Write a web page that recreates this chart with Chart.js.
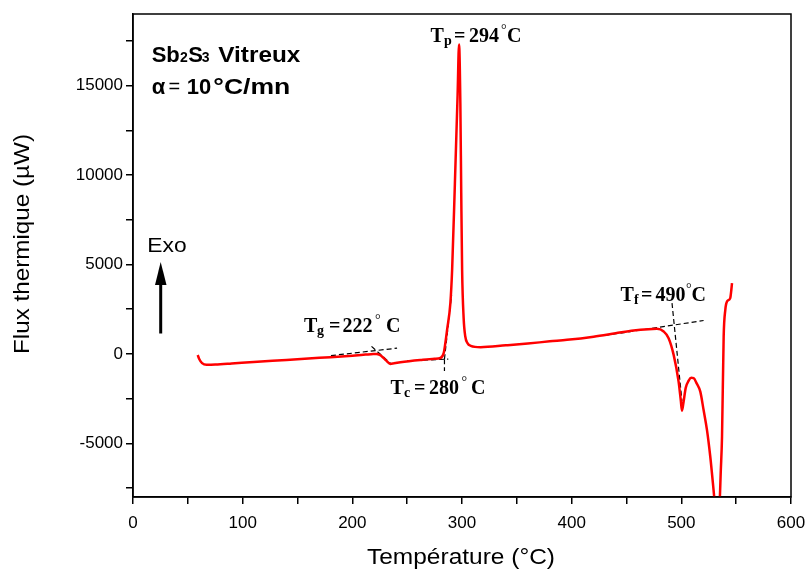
<!DOCTYPE html>
<html>
<head>
<meta charset="utf-8">
<script src="https://cdn.jsdelivr.net/npm/chart.js@4.4.1/dist/chart.umd.min.js"></script>
<style>
  html, body { margin: 0; padding: 0; background: #fff; }
  #wrap { width: 808px; height: 572px; }
</style>
</head>
<body>
<div id="wrap"><canvas id="dsc" width="808" height="572"></canvas></div>
<script>
// DSC curve of glassy Sb2S3 (temperature in °C, flux in µW)
const temperature = [59, 60.5, 63, 67, 75, 90, 110, 140, 170, 200, 212, 219, 222, 225, 228, 231, 234.7, 238, 243.8, 262, 275, 280.3,
  283.3, 284.8, 286.4, 289.4, 291, 293.5, 296, 297.3, 298.5, 299.3, 300.1, 301.5, 303, 305, 308, 317, 340, 360, 380, 395.8, 420,
  440, 456.5, 470, 477.8, 483.9, 488.4, 493, 497.5, 499.5, 500.6, 502, 504, 506.7, 509, 511.2, 514, 517.3, 520.3, 523.4, 526.4,
  529.4, 531.5, 533, 534.5, 536, 537.1, 538.6, 540.1, 541.7, 544.6, 545.6, 546.2];
const flux = [-60, -300, -520, -610, -600, -540, -450, -340, -220, -100, -40, -5, 0, -60, -200, -380, -560, -520, -465, -340, -270, -230,
  40, 600, 1345, 2840, 4700, 9500, 14500, 17300, 14000, 9000, 4700, 2000, 970, 600, 450, 375, 480, 580, 700, 784, 960,
  1150, 1306, 1380, 1400, 1250, 880, -56, -1550, -2600, -3180, -2700, -1900, -1500, -1340, -1360, -1650, -2110, -3140, -4260, -5750,
  -7620, -9000, -9800, -9000, -6500, -4630, 970, 2465, 2930, 3120, 3585, 3960];

// construction lines (tangents) used to read Tg, Tc, Tf
const tgBaseT = [180.5, 240.8], tgBaseF = [-95, 320];
const tgStepT = [217.5, 235], tgStepF = [420, -540];
const tcBaseT = [250, 287.5], tcBaseF = [-390, -290];
const tcEdgeT = [284, 290.5], tcEdgeF = [-297, 3300];
const tcDropT = [284, 284], tcDropF = [-297, -950];
const tfBaseT = [430, 520.3], tfBaseF = [1030, 1865];
const tfEdgeT = [491.5, 500.6], tfEdgeF = [2840, -2650];

const xTickLabels = [0, 100, 200, 300, 400, 500, 600];
const yTickLabels = [-5000, 0, 5000, 10000, 15000];
const yTickMarks = [-7500, -5000, -2500, 0, 2500, 5000, 7500, 10000, 12500, 15000, 17500];

const SANS = "'Liberation Sans', Arial, sans-serif";
const SERIF = "'Liberation Serif', 'Times New Roman', serif";

function pts(xs, ys) { return xs.map((x, i) => ({x: x, y: ys[i]})); }
function dashed(xs, ys) {
  return {data: pts(xs, ys), showLine: true, borderColor: '#000', borderWidth: 1.2,
          borderDash: [5, 3], pointRadius: 0, tension: 0};
}

// draw text squeezed/stretched to a given width
function drawFit(ctx, text, x, y, w, font) {
  ctx.font = font;
  const m = ctx.measureText(text).width;
  ctx.save();
  ctx.translate(x, y);
  ctx.scale(w / m, 1);
  ctx.fillText(text, 0, 0);
  ctx.restore();
}
// "T_sub = value °C" label, pieces placed as in the figure
function drawTemp(ctx, sub, value, xs, base) {
  ctx.font = 'bold 20px ' + SERIF;
  ctx.fillText('T', xs[0], base);
  ctx.fillText('=', xs[2], base);
  ctx.fillText(value, xs[3], base);
  ctx.fillText('C', xs[5], base);
  ctx.font = 'bold 14px ' + SERIF;
  ctx.fillText(sub, xs[1], base + 3);
  ctx.font = '14px ' + SERIF;
  ctx.fillText('\u00b0', xs[4], base - 8);
}

const decor = {
  id: 'decor',
  afterDraw(chart) {
    const ctx = chart.ctx, a = chart.chartArea;
    ctx.save();
    // frame
    ctx.strokeStyle = '#000';
    ctx.lineWidth = 1.5;
    ctx.strokeRect(a.left, a.top, a.right - a.left, a.bottom - a.top);
    ctx.fillStyle = '#000';
    ctx.textAlign = 'left';
    ctx.textBaseline = 'alphabetic';

    // sample / heating rate
    ctx.font = 'bold 22px ' + SANS;
    ctx.fillText('Sb', 151.7, 61.7);
    ctx.fillText('S', 188.3, 61.7);
    ctx.font = 'bold 14px ' + SANS;
    ctx.fillText('2', 180, 61.7);
    ctx.fillText('3', 201.7, 61.7);
    drawFit(ctx, 'Vitreux', 218.3, 61.7, 82, 'bold 22px ' + SANS);
    ctx.font = 'bold 22px ' + SANS;
    ctx.fillText('\u03b1', 151.7, 94);
    ctx.font = '20px ' + SANS;
    ctx.fillText('=', 168.5, 93);
    ctx.font = 'bold 22px ' + SANS;
    ctx.fillText('10', 186.7, 94);
    drawFit(ctx, '\u00b0C/mn', 213.3, 94, 77, 'bold 22px ' + SANS);

    // Exo arrow
    ctx.lineWidth = 3;
    ctx.beginPath();
    ctx.moveTo(160.7, 333.5);
    ctx.lineTo(160.7, 282);
    ctx.stroke();
    ctx.beginPath();
    ctx.moveTo(160.7, 262);
    ctx.lineTo(155, 285);
    ctx.lineTo(166.5, 285);
    ctx.closePath();
    ctx.fill();
    drawFit(ctx, 'Exo', 147.3, 251.7, 39.3, '21px ' + SANS);

    // characteristic temperatures
    drawTemp(ctx, 'p', '294', [430.5, 444, 454, 469, 501, 507], 42);
    drawTemp(ctx, 'g', '222', [304, 317, 329, 342.5, 375, 386], 332);
    drawTemp(ctx, 'c', '280', [390.5, 404, 414, 429, 461.5, 471], 394);
    drawTemp(ctx, 'f', '490', [620.5, 634, 641, 655.5, 686, 691.5], 300.5);

    // axis titles
    drawFit(ctx, 'Temp\u00e9rature (\u00b0C)', 367, 564, 188, '22px ' + SANS);
    ctx.save();
    ctx.translate(28.5, 354);
    ctx.rotate(-Math.PI / 2);
    drawFit(ctx, 'Flux thermique (\u00b5W)', 0, 0, 220, '22px ' + SANS);
    ctx.restore();
    ctx.restore();
  }
};

new Chart(document.getElementById('dsc'), {
  type: 'scatter',
  data: {
    datasets: [
      {data: pts(temperature, flux), showLine: true, borderColor: '#ff0000', borderWidth: 2.5,
       pointRadius: 0, cubicInterpolationMode: 'monotone'},
      dashed(tgBaseT, tgBaseF),
      dashed(tgStepT, tgStepF),
      dashed(tcBaseT, tcBaseF),
      dashed(tcEdgeT, tcEdgeF),
      dashed(tcDropT, tcDropF),
      dashed(tfBaseT, tfBaseF),
      dashed(tfEdgeT, tfEdgeF)
    ]
  },
  options: {
    responsive: false,
    animation: false,
    layout: {padding: {left: 0, right: 17, top: 14, bottom: 0}},
    plugins: {legend: {display: false}, tooltip: {enabled: false}},
    scales: {
      x: {
        type: 'linear', min: 0, max: 600,
        afterFit: s => { s.height = 75; s.paddingLeft = 0; s.paddingRight = 0; },
        border: {color: '#000', width: 1.5},
        grid: {drawOnChartArea: false, drawTicks: true, tickLength: 7, color: '#000', lineWidth: 1.5},
        ticks: {
          stepSize: 50, color: '#000', padding: 9, maxRotation: 0, autoSkip: false,
          font: {family: SANS, size: 17},
          callback: v => xTickLabels.includes(v) ? String(v) : ''
        }
      },
      y: {
        type: 'linear', min: -8000, max: 19000,
        afterBuildTicks: s => { s.ticks = yTickMarks.map(v => ({value: v})); },
        afterFit: s => { s.width = 133; s.paddingTop = 0; s.paddingBottom = 0; },
        border: {color: '#000', width: 1.5},
        grid: {drawOnChartArea: false, drawTicks: true, tickLength: 7, color: '#000', lineWidth: 1.5},
        ticks: {
          color: '#000', padding: 3, autoSkip: false,
          font: {family: SANS, size: 17},
          callback: v => yTickLabels.includes(v) ? String(v) : ''
        }
      }
    }
  },
  plugins: [decor]
});
</script>
</body>
</html>
